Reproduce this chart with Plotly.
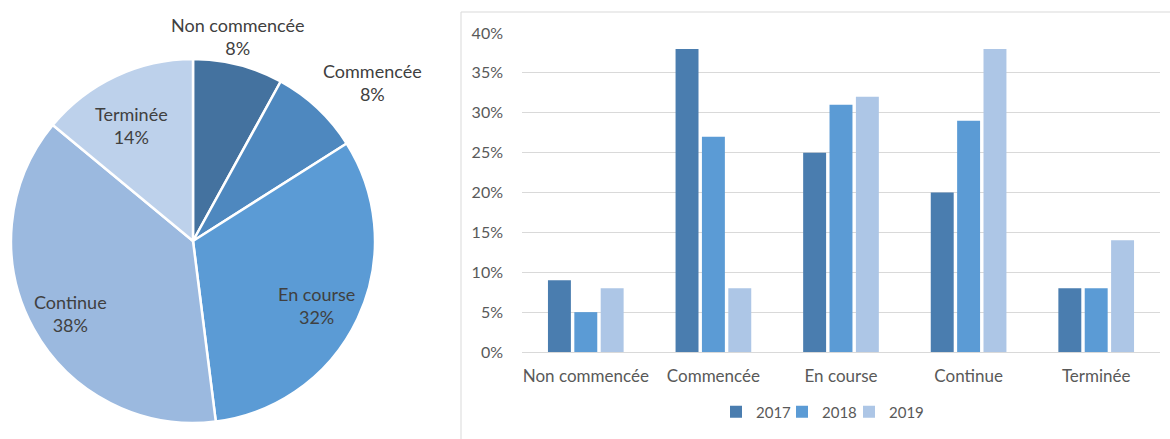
import plotly.graph_objects as go

# Pie data
pie_labels = ["Non commencée", "Commencée", "En course", "Continue", "Terminée"]
pie_values = [8, 8, 32, 38, 14]
pie_colors = ["#44729F", "#4E88BF", "#5B9BD5", "#9BB9DF", "#BDD1EB"]
# label anchor points (pixel positions of the text centres, as in the reference)
pie_label_pos = [(238, 36), (372, 82), (316, 305), (70, 313), (131, 125)]

# Bar data
categories = ["Non commencée", "Commencée", "En course", "Continue", "Terminée"]
years = ["2017", "2018", "2019"]
values_2017 = [0.09, 0.38, 0.25, 0.20, 0.08]
values_2018 = [0.05, 0.27, 0.31, 0.29, 0.08]
values_2019 = [0.08, 0.08, 0.32, 0.38, 0.14]
bar_colors = ["#4A7DAF", "#5B9BD5", "#ADC6E6"]
legend_x_px = [716, 782, 849]

W, H = 1170, 439
FONT = "Lato, 'Open Sans', sans-serif"
TXT = "#404040"
AX = "#595959"

fig = go.Figure()

fig.add_trace(go.Pie(
    labels=pie_labels, values=pie_values, sort=False, direction="clockwise",
    rotation=0,
    marker=dict(colors=pie_colors, line=dict(color="white", width=2.5)),
    textinfo="none",
    showlegend=False,
    domain=dict(x=[11 / W, 375 / W], y=[1 - 423 / H, 1 - 59 / H]),
    hoverinfo="skip",
))

total = sum(pie_values)
annotations = []
for lab, val, (px, py) in zip(pie_labels, pie_values, pie_label_pos):
    annotations.append(dict(
        x=px / W, y=1 - py / H, xref="paper", yref="paper",
        text=f"{lab}<br>{round(100 * val / total)}%", showarrow=False,
        xanchor="center", yanchor="middle", align="center",
        font=dict(family=FONT, size=18, color=TXT),
    ))

legend_names = ["legend", "legend2", "legend3"]
for yr, vals, col, lg in zip(years, [values_2017, values_2018, values_2019], bar_colors, legend_names):
    fig.add_trace(go.Bar(x=categories, y=vals, name=yr, marker=dict(color=col, line=dict(width=0)),
                         hoverinfo="skip", legend=lg))

legend_common = dict(orientation="h", yanchor="middle", xanchor="left",
                     font=dict(size=15, color=AX), itemwidth=30, bgcolor="rgba(0,0,0,0)")
layout_legends = {}
for lg, lx in zip(legend_names, legend_x_px):
    layout_legends[lg] = dict(legend_common, x=lx / W, y=1 - 412 / H)

fig.update_layout(
    width=W, height=H,
    margin=dict(l=0, r=0, t=0, b=0),
    paper_bgcolor="white", plot_bgcolor="white",
    font=dict(family=FONT, size=16, color=AX),
    barmode="group", bargap=0.38, bargroupgap=0.13,
    xaxis=dict(domain=[522 / W, 1160 / W], showgrid=False, showline=False, ticks="",
               automargin=False, ticklabelstandoff=12,
               tickfont=dict(size=17, color=AX)),
    yaxis=dict(domain=[1 - 352 / H, 1 - 33 / H], range=[0, 0.40], dtick=0.05, tickformat=".0%",
               showgrid=True, gridcolor="#D9D9D9", gridwidth=1, zeroline=True,
               zerolinecolor="#D9D9D9", zerolinewidth=1, ticks="", ticklabelstandoff=18,
               automargin=False, tickfont=dict(size=16, color=AX)),
    annotations=annotations,
    shapes=[
        dict(type="line", xref="paper", yref="paper", x0=461 / W, x1=1.0, y0=1 - 12 / H, y1=1 - 12 / H,
             line=dict(color="#D9D9D9", width=1)),
        dict(type="line", xref="paper", yref="paper", x0=461 / W, x1=461 / W, y0=0, y1=1 - 12 / H,
             line=dict(color="#D9D9D9", width=1)),
    ],
    **layout_legends,
)

fig.write_html("out.html", config={"displayModeBar": False},
               post_script="document.body.style.margin='0';")
